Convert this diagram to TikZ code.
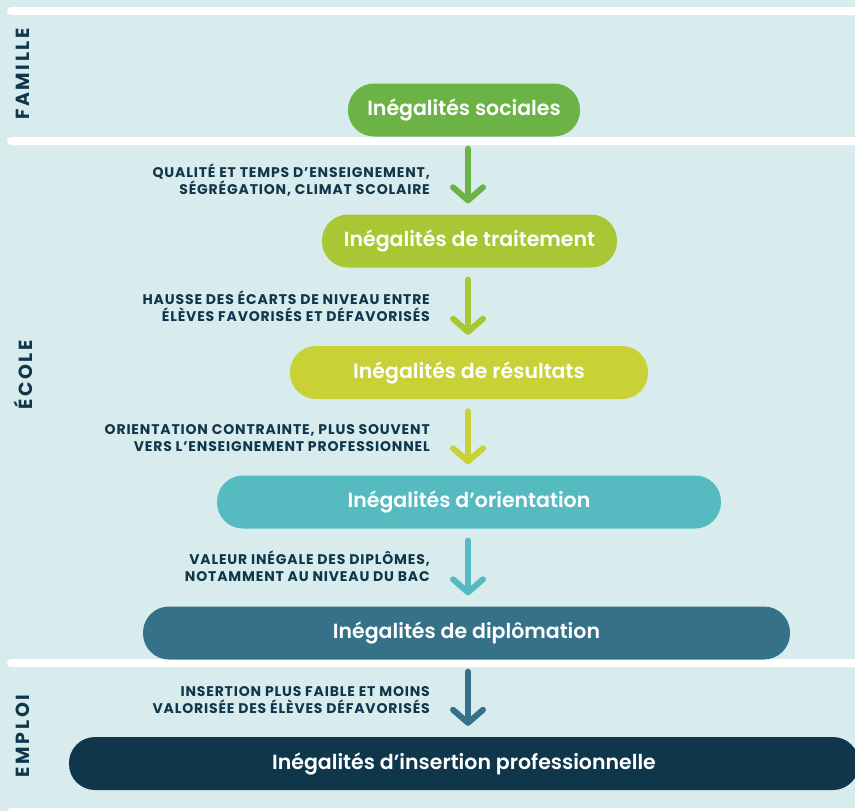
\documentclass[tikz,border=0pt]{standalone}
\usepackage{fontspec}
\setmainfont{Poppins}
\newfontfamily\semifont{Poppins SemiBold}
\newfontfamily\boldfont{Poppins Bold}[LetterSpace=6]
\newfontfamily\widefont{Poppins Bold}[LetterSpace=14]
\usetikzlibrary{arrows.meta}
\definecolor{bg}{HTML}{D8ECEE}
\definecolor{cA}{HTML}{6CB345}
\definecolor{cB}{HTML}{A9C734}
\definecolor{cC}{HTML}{C8D236}
\definecolor{cD}{HTML}{55BBC0}
\definecolor{cE}{HTML}{35728A}
\definecolor{cF}{HTML}{0F364A}
\tikzset{
  x=1pt,y=-1pt,
  stage/.style={rectangle,rounded corners=26pt,inner sep=0pt,minimum height=53pt,
    text=white,font=\semifont\fontsize{20.5}{24}\selectfont},
  lab/.style={anchor=east,align=right,text=cF,inner sep=0pt,
    font=\boldfont\fontsize{14}{17}\selectfont},
  side/.style={rotate=90,text=cF,inner sep=0pt,font=\widefont\fontsize{19}{20}\selectfont},
  sep/.style={fill=white,rounded corners=4pt},
  arr/.style={line width=6pt,line cap=round,line join=round,
    -{Straight Barb[length=13pt,width=30pt,round]},shorten <=12pt,shorten >=11pt},
}
\begin{document}
\begin{tikzpicture}
\useasboundingbox (0,0) rectangle (855,811);
\fill[bg] (0,0) rectangle (855,811);
\fill[sep] (7,7) rectangle (875,15);
\fill[sep] (7,137) rectangle (875,145);
\fill[sep] (7,659) rectangle (875,667);
\fill[sep] (7,808) rectangle (875,818);

\node[side] (famille) at (23,74) {FAMILLE};
\node[side] (ecole) at (23,375) {ÉCOLE};
\node[side] (emploi) at (23,736) {EMPLOI};

\node[stage,fill=cA,minimum width=232pt] (n1) at (464,110) {Inégalités sociales};
\node[stage,fill=cB,minimum width=295pt] (n2) at (469.5,241) {Inégalités de traitement};
\node[stage,fill=cC,minimum width=358pt] (n3) at (469,372.5) {Inégalités de résultats};
\node[stage,fill=cD,minimum width=504pt] (n4) at (469,502) {Inégalités d’orientation};
\node[stage,fill=cE,minimum width=647pt] (n5) at (466.5,633) {Inégalités de diplômation};
\node[stage,fill=cF,minimum width=790pt] (n6) at (464,763.5) {Inégalités d’insertion professionnelle};

\coordinate (ax) at (468,0);
\draw[arr,cA] (n1.south -| ax) -- (n2.north -| ax);
\draw[arr,cB] (n2.south -| ax) -- (n3.north -| ax);
\draw[arr,cC] (n3.south -| ax) -- (n4.north -| ax);
\draw[arr,cD] (n4.south -| ax) -- (n5.north -| ax);
\draw[arr,cE] (n5.south -| ax) -- (n6.north -| ax);

\node[lab] (l1) at (430,180) {QUALITÉ ET TEMPS D’ENSEIGNEMENT,\\SÉGRÉGATION, CLIMAT SCOLAIRE};
\node[lab] (l2) at (430,306) {HAUSSE DES ÉCARTS DE NIVEAU ENTRE\\ÉLÈVES FAVORISÉS ET DÉFAVORISÉS};
\node[lab] (l3) at (430,438) {ORIENTATION CONTRAINTE, PLUS SOUVENT\\VERS L’ENSEIGNEMENT PROFESSIONNEL};
\node[lab] (l4) at (430,566) {VALEUR INÉGALE DES DIPLÔMES,\\NOTAMMENT AU NIVEAU DU BAC};
\node[lab] (l5) at (430,700) {INSERTION PLUS FAIBLE ET MOINS\\VALORISÉE DES ÉLÈVES DÉFAVORISÉS};
\end{tikzpicture}
\end{document}
